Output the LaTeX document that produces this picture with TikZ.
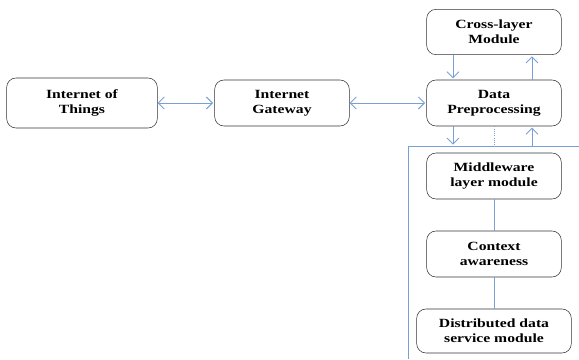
\documentclass[tikz,border=0pt]{standalone}
\usepackage{fontspec}
\setmainfont{Liberation Serif}[FakeStretch=1.25]
\usetikzlibrary{arrows.meta,positioning}
\definecolor{linkblue}{RGB}{120,160,215}

\begin{document}
\begin{tikzpicture}[>={Straight Barb[length=4.5pt,width=9pt]},shorten >=1pt,
                    block/.style={draw=black!80, rounded corners=7pt, align=center,
                      minimum width=101pt, minimum height=34.5pt, inner sep=2pt,
                      font=\bfseries\fontsize{9.4}{11.25}\selectfont},
                    link/.style={draw=linkblue, line width=0.7pt}]
  \useasboundingbox (0,0) rectangle (434.25pt,-270pt);

  \node[block, minimum width=113pt, minimum height=37.5pt] (iot) at (61.5pt,-77.25pt) {Internet of\\Things};
  \node[block] (gw)   [right of=iot, node distance=150pt]   {Internet\\Gateway};
  \node[block] (data) [right of=gw, node distance=159pt]    {Data\\Preprocessing};
  \node[block, minimum height=34pt] (cross) [above of=data, node distance=53.25pt] {Cross-layer\\Module};
  \node[block] (mw)   [below of=data, node distance=54.75pt] {Middleware\\layer module};
  \node[block] (ctx)  [below of=mw, node distance=58.5pt]    {Context\\awareness};
  \node[block, minimum width=116pt, minimum height=33pt] (dist) [below of=ctx, node distance=57.75pt] {Distributed data\\service module};

  % frame round the lower modules
  \coordinate (frame)    at (306pt,-109.5pt);
  \coordinate (frameend) at (434.25pt,-109.5pt);
  \coordinate (framebot) at (306pt,-270pt);
  \draw[link, line width=0.6pt] (frameend) -- (frame) -- (framebot);

  \path[link] (iot) edge[<->] (gw)
              (gw)  edge[<->] (data);
  \draw[link,->] ([xshift=-30.75pt]cross.south) -- ([xshift=-30.75pt]data.north);
  \draw[link,->] ([xshift=28.5pt]data.north) -- ([xshift=28.5pt]cross.south);
  \draw[link,->] ([xshift=-30.75pt]data.south) -- ([xshift=-30.75pt]data.south |- frame);
  \draw[link,->] ([xshift=28.5pt]data.south |- frame) -- ([xshift=28.5pt]data.south);
  \draw[link, densely dotted, shorten >=0pt] (data.south) -- (data.south |- frame);
  \draw[link, shorten >=0pt] (mw) -- (ctx);
  \draw[link, shorten >=0pt] (ctx) -- (dist);
\end{tikzpicture}
\end{document}
